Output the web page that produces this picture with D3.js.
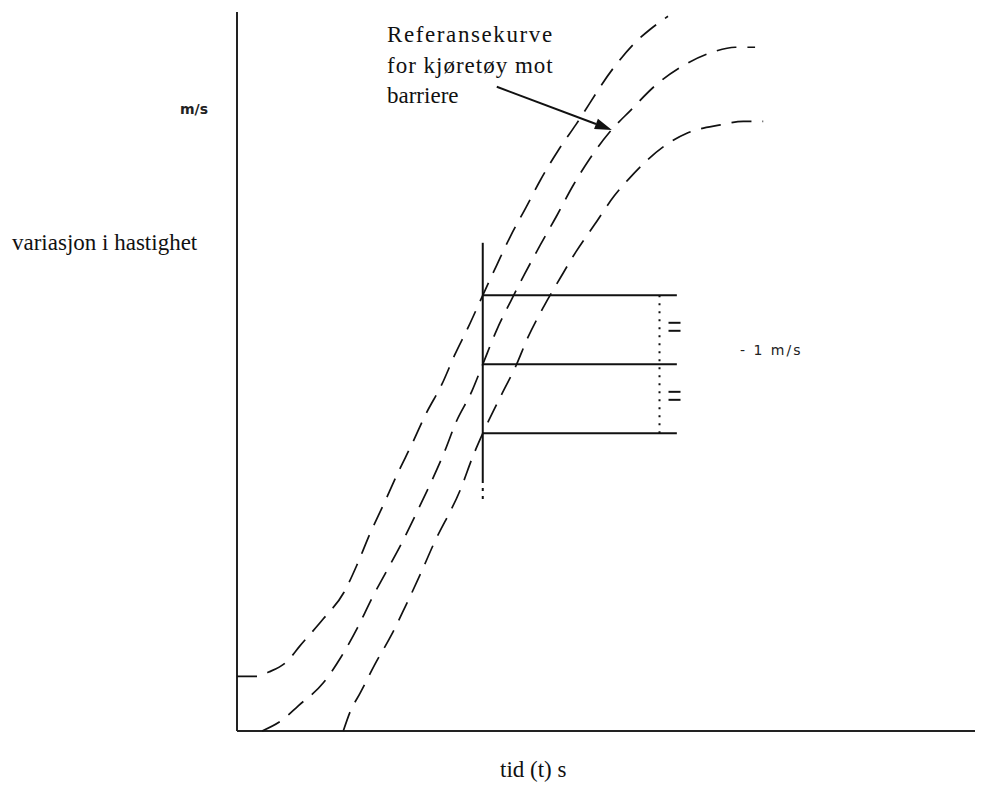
<!DOCTYPE html>
<html>
<head>
<meta charset="utf-8">
<script src="https://cdn.jsdelivr.net/npm/d3@7"></script>
<style>
  html, body { margin: 0; padding: 0; background: #fff; }
  svg { display: block; }
  .serif { font-family: "Liberation Serif", "DejaVu Serif", serif; fill: #111; }
  .small { font-family: "DejaVu Sans", sans-serif; fill: #222; }
</style>
</head>
<body>
<svg id="chart" width="994" height="785"></svg>
<script>
// Time axis and velocity axis extents (relative units)
const timeDomain = [0, 100];
const speedDomain = [0, 100];

// Upper corridor boundary: [time, velocity change]
const upperTime  = [0, 2.7, 4.3, 6.8, 8.5, 11.7, 14.5, 16.3, 18.0, 19.9, 21.8, 23.7, 25.6, 27.8, 29.5, 31.4, 33.3, 35.2, 37.0, 39.2, 41.1, 43.5, 45.9, 51.0, 53.8, 56.0, 58.4];
const upperSpeed = [7.6, 7.6, 8.2, 9.7, 11.8, 15.6, 19.3, 23.2, 27.4, 31.6, 35.9, 39.9, 44.1, 48.3, 52.3, 56.3, 60.6, 64.8, 68.7, 72.9, 76.6, 80.7, 84.3, 92.2, 95.6, 97.6, 99.4];

// Reference curve for vehicle against barrier
const refTime  = [3.4, 6.1, 8.3, 11.7, 14.1, 16.3, 18.3, 20.2, 22.4, 24.4, 26.3, 28.1, 29.7, 31.8, 33.3, 35.2, 37.1, 39.0, 41.1, 43.4, 45.5, 47.8, 50.5, 53.4, 56.6, 60.4, 64.4, 67.5, 70.2];
const refSpeed = [0, 1.5, 3.5, 6.7, 10.3, 14.3, 18.5, 22.1, 26.3, 30.5, 34.6, 38.8, 43.0, 47.2, 51.0, 55.8, 59.8, 63.6, 67.6, 71.8, 75.8, 79.6, 83.3, 86.4, 89.7, 92.5, 94.4, 95.1, 95.1];

// Lower corridor boundary
const lowerTime  = [14.4, 15.3, 16.7, 18.7, 21.0, 22.8, 24.8, 26.6, 30.4, 32.0, 33.3, 35.8, 37.8, 39.4, 41.6, 43.8, 45.9, 48.5, 51.1, 53.1, 57.7, 61.1, 65.5, 68.6, 71.3];
const lowerSpeed = [0, 2.6, 5.3, 9.3, 13.5, 17.3, 21.7, 25.9, 33.9, 38.3, 41.4, 46.7, 50.8, 54.7, 59.1, 63.0, 66.6, 70.5, 74.4, 76.8, 81.2, 83.2, 84.3, 84.8, 84.8];

const checkTime = 33.3;
const checkLevels = [60.6, 51.0, 41.4];
const checkLineEnd = 59.6;
const dottedTime = 57.25;
const checkSpan = [31.8, 67.9];
const checkSolidFrom = 34.9;

// Labels
const yLabel = "variasjon i hastighet";
const xLabel = "tid (t) s";
const unitLabel = "m/s";
const stepLabel = "- 1 m/s";
const noteLines = ["Referansekurve", "for kjøretøy mot", "barriere"];
// Arrow from the note to the reference curve: [time, velocity]
const arrowFrom = [35.2, 89.6];
const arrowTo = [50.8, 83.6];

const svg = d3.select("#chart");
const x = d3.scaleLinear().domain(timeDomain).range([237, 975]);
const y = d3.scaleLinear().domain(speedDomain).range([731, 12]);

const ink = "#111";

// Axes
svg.append("line")
  .attr("x1", x(0)).attr("x2", x(0))
  .attr("y1", y(0)).attr("y2", y(100))
  .attr("stroke", "#222").attr("stroke-width", 2);
svg.append("line")
  .attr("x1", x(0)).attr("x2", x(100))
  .attr("y1", y(0)).attr("y2", y(0))
  .attr("stroke", "#222").attr("stroke-width", 2);

// Dashed curves
const line = d3.line()
  .x(d => x(d[0]))
  .y(d => y(d[1]))
  .curve(d3.curveMonotoneX);

const curves = [
  d3.zip(upperTime, upperSpeed),
  d3.zip(refTime, refSpeed),
  d3.zip(lowerTime, lowerSpeed)
];

svg.selectAll("path.curve")
  .data(curves)
  .join("path")
  .attr("class", "curve")
  .attr("d", line)
  .attr("fill", "none")
  .attr("stroke", ink)
  .attr("stroke-width", 1.7)
  .attr("stroke-dasharray", "20,11");

// Vertical check line at the check instant
svg.append("line")
  .attr("x1", x(checkTime)).attr("x2", x(checkTime))
  .attr("y1", y(checkSpan[1])).attr("y2", y(checkSolidFrom))
  .attr("stroke", ink).attr("stroke-width", 2);
svg.append("line")
  .attr("x1", x(checkTime)).attr("x2", x(checkTime))
  .attr("y1", y(checkSolidFrom)).attr("y2", y(checkSpan[0]))
  .attr("stroke", ink).attr("stroke-width", 2)
  .attr("stroke-dasharray", "3,5");

// Horizontal levels where each curve meets the check instant
svg.selectAll("line.level")
  .data(checkLevels)
  .join("line")
  .attr("class", "level")
  .attr("x1", x(checkTime)).attr("x2", x(checkLineEnd))
  .attr("y1", d => y(d)).attr("y2", d => y(d))
  .attr("stroke", ink).attr("stroke-width", 2);

// Dotted span between the outer levels
svg.append("line")
  .attr("x1", x(dottedTime)).attr("x2", x(dottedTime))
  .attr("y1", y(checkLevels[0])).attr("y2", y(checkLevels[2]))
  .attr("stroke", ink).attr("stroke-width", 2)
  .attr("stroke-dasharray", "2,6");

// Equal-step marks beside each half of the span
const halfMids = [
  (checkLevels[0] + checkLevels[1]) / 2,
  (checkLevels[1] + checkLevels[2]) / 2
];
halfMids.forEach(m => {
  [-4, 4].forEach(off => {
    svg.append("line")
      .attr("x1", x(dottedTime) + 9).attr("x2", x(dottedTime) + 21)
      .attr("y1", y(m) + off - 3).attr("y2", y(m) + off - 3)
      .attr("stroke", ink).attr("stroke-width", 2);
  });
});

// Small unit labels
svg.append("text").attr("class", "small")
  .attr("x", 180).attr("y", 114)
  .attr("font-size", 14).attr("font-weight", "bold")
  .text(unitLabel);
svg.append("text").attr("class", "small")
  .attr("x", 740).attr("y", y(checkLevels[1]) - 9)
  .attr("font-size", 14).attr("letter-spacing", 2)
  .text(stepLabel);

// Axis titles
svg.append("text").attr("class", "serif")
  .attr("x", 12).attr("y", 250)
  .attr("font-size", 23)
  .text(yLabel);
svg.append("text").attr("class", "serif")
  .attr("x", 500).attr("y", 777)
  .attr("font-size", 23)
  .text(xLabel);

// Note text
const note = svg.append("text").attr("class", "serif")
  .attr("font-size", 23);
noteLines.forEach((t, i) => {
  note.append("tspan")
    .attr("x", 387).attr("y", 42 + i * 30.5)
    .attr("letter-spacing", i === 0 ? 1.6 : (i === 1 ? 1.0 : 0))
    .text(t);
});

// Arrow to the reference curve
const ax0 = x(arrowFrom[0]), ay0 = y(arrowFrom[1]);
const ax1 = x(arrowTo[0]), ay1 = y(arrowTo[1]);
const ang = Math.atan2(ay1 - ay0, ax1 - ax0);
const headLen = 17, headHalf = 5.5;
const bx = ax1 - headLen * Math.cos(ang), by = ay1 - headLen * Math.sin(ang);
svg.append("line")
  .attr("x1", ax0).attr("y1", ay0).attr("x2", bx).attr("y2", by)
  .attr("stroke", ink).attr("stroke-width", 2);
svg.append("path")
  .attr("d", d3.line()([
    [ax1, ay1],
    [bx - headHalf * Math.sin(ang), by + headHalf * Math.cos(ang)],
    [bx + headHalf * Math.sin(ang), by - headHalf * Math.cos(ang)]
  ]) + "Z")
  .attr("fill", ink);
</script>
</body>
</html>
